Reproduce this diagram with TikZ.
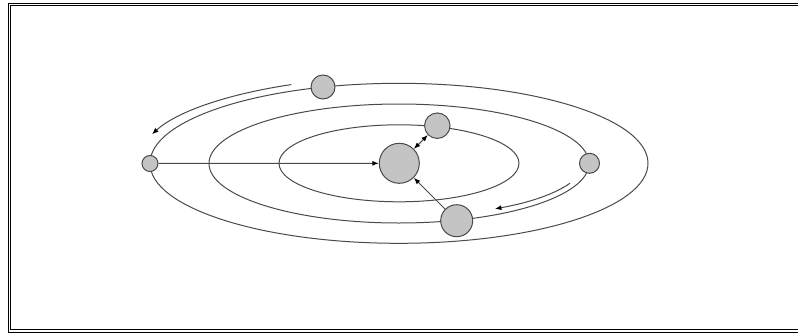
\documentclass[tikz,border=0pt]{standalone}
\usetikzlibrary{arrows.meta}
\definecolor{planet}{HTML}{C4C4C4}
\definecolor{orbitc}{HTML}{4A4A4A}
\tikzset{
  orbit/.style={draw=orbitc, line width=1pt},
  body/.style={circle, draw=orbitc, line width=1pt, fill=planet, inner sep=0pt},
  tipstyle/.style={},
  link/.style={draw=orbitc, line width=1pt, -{Latex[length=6.5pt,width=5pt,color=black]}},
  dlink/.style={draw=orbitc, line width=1pt, {Latex[length=6.5pt,width=5pt,color=black]}-{Latex[length=6.5pt,width=5pt,color=black]}},
  frameline/.style={draw=black, line width=1pt}
}
\begin{document}
\begin{tikzpicture}[x=1pt,y=-1pt]
\useasboundingbox (0,0) rectangle (798,335);
% frame
\draw[frameline] (798,3.5) -- (8,3.5) -- (8,332) -- (798,332);
\draw[frameline] (798,5.8) -- (10.6,5.8) -- (10.6,329.8) -- (798,329.8);
% orbits
\draw[orbit] (399,163.3) ellipse[x radius=249, y radius=80];
\draw[orbit] (399,163.5) ellipse[x radius=190, y radius=59.5];
\draw[orbit] (399,163.3) ellipse[x radius=120, y radius=38.5];
% bodies
\node[body, minimum size=40pt] (sun) at (399.3,163.3) {};
\node[body, minimum size=16pt] (p1) at (150,163.5) {};
\node[body, minimum size=24pt] (p2) at (323,87) {};
\node[body, minimum size=25.5pt] (p3) at (437.3,125.7) {};
\node[body, minimum size=20pt] (p4) at (589.5,163.3) {};
\node[body, minimum size=32pt] (p5) at (456.7,220.7) {};
% connectors
\draw[link] (p1) -- (sun);
\draw[dlink] (p3) -- (sun);
\draw[link] (p5) -- (sun);
% motion arrows
\coordinate (a1) at (291.2,84.6);
\draw[link] (a1) arc[start angle=-114.3, end angle=-160.5, x radius=262, y radius=86];
\coordinate (a2) at (570.0,183.2);
\draw[link] (a2) arc[start angle=21.8, end angle=58.6, x radius=184.2, y radius=53.1];
\end{tikzpicture}
\end{document}
